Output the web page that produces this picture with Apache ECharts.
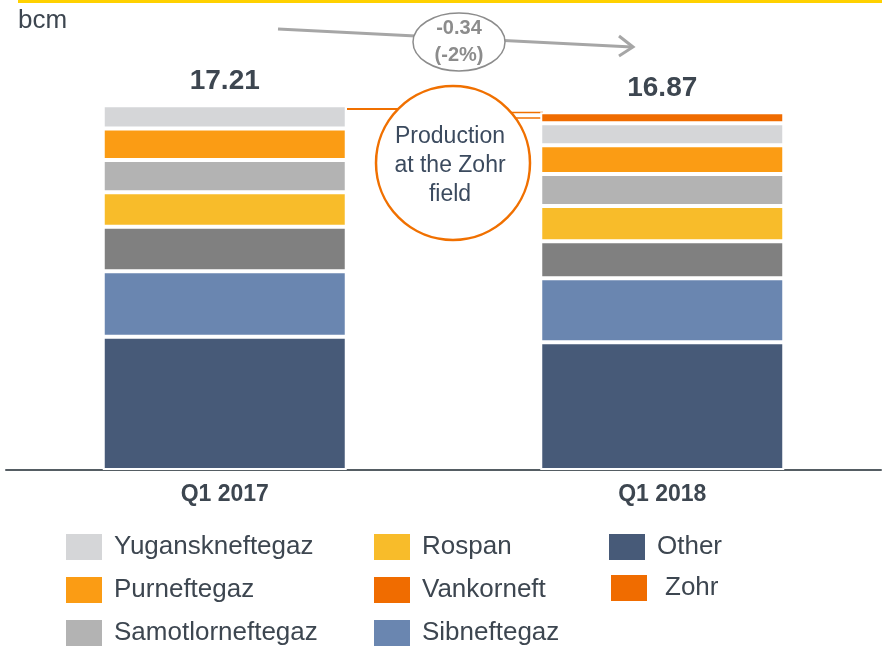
<!DOCTYPE html>
<html>
<head>
<meta charset="utf-8">
<script src="https://cdn.jsdelivr.net/npm/echarts@6/dist/echarts.min.js"></script>
<style>
  html, body { margin: 0; padding: 0; background: #fff; }
  #chart { width: 882px; height: 650px; }
</style>
</head>
<body>
<div id="chart"></div>
<script>
// Добыча газа, bcm
const quarters = ['Q1 2017', 'Q1 2018']
const totals = [17.21, 16.87]
const other = [6.29, 6.03]
const sibneftegaz = [3.08, 3.01]
const vankorneft = [2.10, 1.75]
const rospan = [1.63, 1.66]
const samotlor = [1.52, 1.51]
const purneftegaz = [1.49, 1.36]
const yugansk = [1.10, 1.04]
const zohr = [0, 0.51]

const font = "'Liberation Sans', Arial, sans-serif"
const textColor = '#3d4650'

function bar(name, data, color) {
    return {
        name: name,
        type: 'bar',
        stack: 'gas',
        data: data,
        barWidth: 244,
        itemStyle: { color: color, borderColor: '#fff', borderWidth: 2 }
    }
}

function legendCol(names, left, top, gap, pad) {
    return {
        orient: 'vertical',
        left: left,
        top: top,
        padding: 0,
        icon: 'rect',
        itemWidth: 36,
        itemHeight: 26,
        itemGap: gap,
        selectedMode: false,
        itemStyle: { borderWidth: 0 },
        textStyle: { fontSize: 26, color: textColor, fontFamily: font, padding: [0, 0, 0, pad] },
        data: names
    }
}

const chart = echarts.init(document.getElementById('chart'))
const option = {
    animation: false,
    grid: { left: 6, right: 1, top: 46, bottom: 180 },
    xAxis: {
        type: 'category',
        data: quarters,
        axisTick: { show: false },
        axisLine: { lineStyle: { color: '#555d63', width: 2 } },
        axisLabel: { margin: 13, fontSize: 23, fontWeight: 'bold', color: textColor, fontFamily: font }
    },
    yAxis: { type: 'value', min: 0, max: 20, show: false },
    legend: [
        legendCol(['Yuganskneftegaz', 'Purneftegaz', 'Samotlorneftegaz'], 66, 534, 17, 7),
        legendCol(['Rospan', { name: 'Vankorneft', itemStyle: { color: '#f06c00' } }, 'Sibneftegaz'], 374, 534, 17, 7),
        legendCol(['Other'], 609, 534, 17, 7),
        legendCol(['Zohr'], 611, 575, 17, 13)
    ],
    series: [
        bar('Other', other, '#475a78'),
        bar('Sibneftegaz', sibneftegaz, '#6a86b0'),
        bar('Vankorneft', vankorneft, '#808080'),
        bar('Rospan', rospan, '#f8bc2a'),
        bar('Samotlorneftegaz', samotlor, '#b3b3b3'),
        bar('Purneftegaz', purneftegaz, '#fb9c14'),
        bar('Yuganskneftegaz', yugansk, '#d5d6d8'),
        bar('Zohr', zohr, '#f06c00'),
        {
            type: 'scatter',
            data: totals,
            symbolSize: 0,
            silent: true,
            itemStyle: { opacity: 1 },
            label: {
                show: true,
                position: 'top',
                distance: 10,
                fontSize: 28,
                fontWeight: 'bold',
                color: textColor,
                fontFamily: font
            }
        }
    ],
    graphic: [
        // верхняя жёлтая линия
        { type: 'rect', shape: { x: 18, y: 0, width: 864, height: 3 }, style: { fill: '#ffd100' } },
        { type: 'text', left: 18, top: 8, style: { text: 'bcm', fontSize: 26, fill: textColor, fontFamily: font } },
        // стрелка изменения
        { type: 'line', shape: { x1: 278, y1: 29, x2: 632, y2: 47 }, style: { stroke: '#a6a6a6', lineWidth: 3 } },
        { type: 'polyline', shape: { points: [[619, 36], [633, 47], [619, 56]] }, style: { stroke: '#a6a6a6', lineWidth: 3, fill: null } },
        { type: 'ellipse', shape: { cx: 459, cy: 42, rx: 46, ry: 29 }, style: { fill: '#fff', stroke: '#8c8c8c', lineWidth: 1.5 } },
        { type: 'text', x: 459, y: 28, style: { text: '-0.34', fontSize: 20, fontWeight: 'bold', fill: '#8c8c8c', fontFamily: font, align: 'center', verticalAlign: 'middle' } },
        { type: 'text', x: 459, y: 55, style: { text: '(-2%)', fontSize: 20, fontWeight: 'bold', fill: '#8c8c8c', fontFamily: font, align: 'center', verticalAlign: 'middle' } },
        // выноска Zohr
        { type: 'line', shape: { x1: 347, y1: 109, x2: 399, y2: 109 }, style: { stroke: '#f07000', lineWidth: 2 } },
        { type: 'line', shape: { x1: 509, y1: 112.5, x2: 543, y2: 112.5 }, style: { stroke: '#f07000', lineWidth: 1.5 } },
        { type: 'line', shape: { x1: 514, y1: 118, x2: 543, y2: 118 }, style: { stroke: '#f07000', lineWidth: 1.5 } },
        { type: 'circle', shape: { cx: 453, cy: 163, r: 77 }, style: { fill: '#fff', stroke: '#f07000', lineWidth: 2.5 } },
        { type: 'text', x: 450, y: 166, style: { text: 'Production\nat the Zohr\nfield', fontSize: 23, lineHeight: 29, fill: '#3b4a5e', fontFamily: font, align: 'center', verticalAlign: 'middle' } }
    ]
}
chart.setOption(option)
</script>
</body>
</html>
